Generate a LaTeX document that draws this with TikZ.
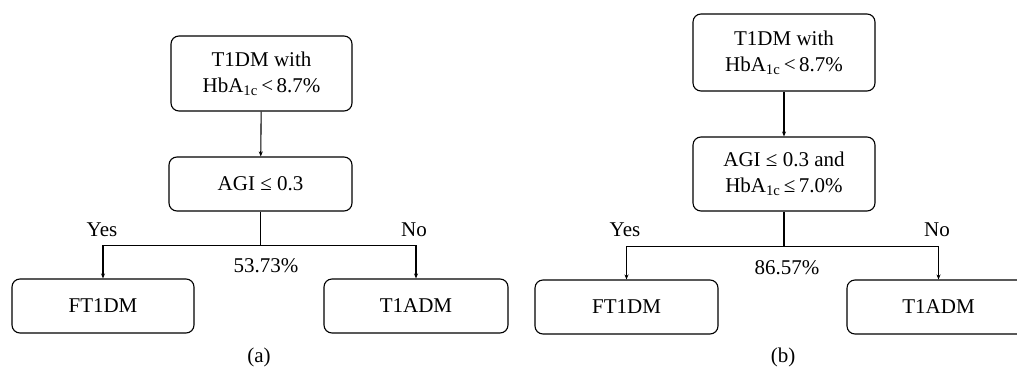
\documentclass[tikz,border=0pt]{standalone}
\usepackage{fontspec}
\setmainfont{Liberation Serif}
\usetikzlibrary{arrows.meta}
\tikzset{
  box/.style={draw, line width=1.1pt, rounded corners=8pt, align=center,
    inner sep=0pt, font=\fontsize{21}{26}\selectfont},
  arr/.style={line width=1.1pt, -{Stealth[length=5pt,width=4pt]}},
  link/.style={line width=1.1pt},
  lbl/.style={font=\fontsize{21}{26}\selectfont, inner sep=0pt}
}
\begin{document}
\begin{tikzpicture}[x=1pt,y=-1pt]
\useasboundingbox (0,0) rectangle (1017,370);
\clip (0,0) rectangle (1017,370);

% left tree
\node[box, minimum width=181pt, minimum height=75pt] (ta) at (261.5,73.5)
  {T1DM with\\HbA\textsubscript{1c}\,<\,8.7\%};
\node[box, minimum width=183pt, minimum height=54pt] (ma) at (260.5,184) {AGI ≤ 0.3};
\node[box, minimum width=182pt, minimum height=54pt] (fa) at (103,306) {FT1DM};
\node[box, minimum width=184pt, minimum height=54pt] (na) at (416,306) {T1ADM};
\draw[arr] (ta) -- (ma);
\draw[link] (ma.south) -- ++(0,34) coordinate (ja);
\draw[arr] (ja) -| (fa.north);
\draw[arr] (ja) -| (na.north);
\node[lbl] (ya) at (102,230) {Yes};
\node[lbl] (nna) at (414,230) {No};
\node[lbl] (pa) at (266,266) {53.73\%};
\node[lbl] (capa) at (259,357) {(a)};

% right tree
\node[box, minimum width=182pt, minimum height=77pt] (tb) at (784,52.5)
  {T1DM with\\HbA\textsubscript{1c}\,<\,8.7\%};
\node[box, minimum width=182pt, minimum height=74pt] (mb) at (784,174)
  {AGI ≤ 0.3 and\\HbA\textsubscript{1c}\,≤\,7.0\%};
\node[box, minimum width=183pt, minimum height=54pt] (fb) at (626.5,307) {FT1DM};
\node[box, minimum width=183pt, minimum height=54pt] (nb) at (938.5,307) {T1ADM};
\draw[arr] (tb) -- (mb);
\draw[link] (mb.south) -- ++(0,35) coordinate (jb);
\draw[arr] (jb) -| (fb.north);
\draw[arr] (jb) -| (nb.north);
\node[lbl] (yb) at (625,230) {Yes};
\node[lbl] (nnb) at (937,230) {No};
\node[lbl] (pb) at (787,268) {86.57\%};
\node[lbl] (capb) at (783,357) {(b)};
\end{tikzpicture}
\end{document}
